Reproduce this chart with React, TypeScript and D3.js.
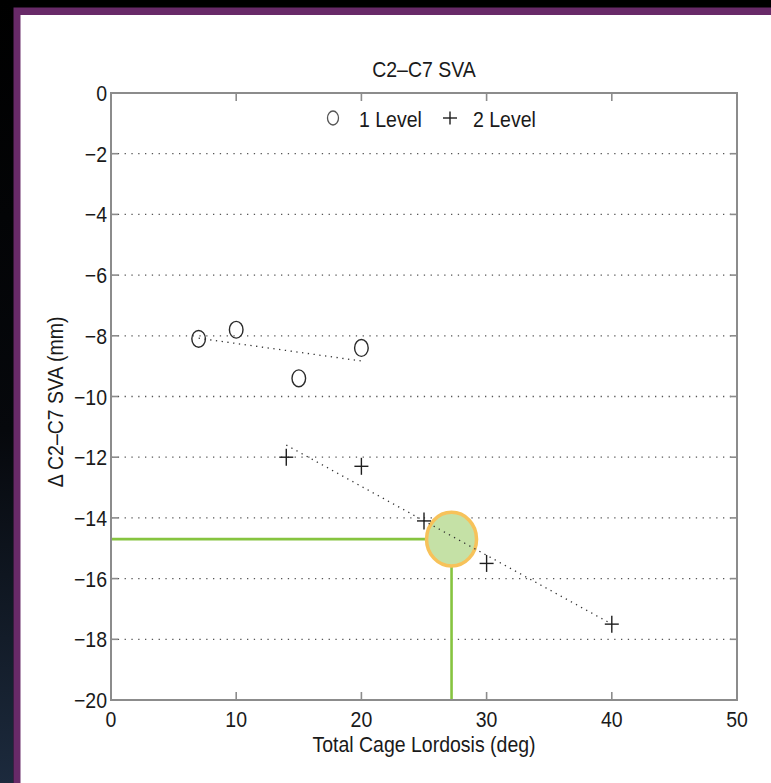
import * as d3 from "d3";

// 1 Level (circles)
const oneLevelX = [7, 10, 15, 20];
const oneLevelY = [-8.1, -7.8, -9.4, -8.4];
// 2 Level (plus)
const twoLevelX = [14, 20, 25, 30, 40];
const twoLevelY = [-12, -12.3, -14.1, -15.5, -17.5];
// dotted fit lines, end points
const oneFitX = [7, 20];
const oneFitY = [-8.08, -8.83];
const twoFitX = [14, 40];
const twoFitY = [-11.6, -17.5];
// green highlight
const markX = 27.2;
const markY = -14.7;

const xTicks = [0, 10, 20, 30, 40, 50];
const yTicks = [0, -2, -4, -6, -8, -10, -12, -14, -16, -18, -20];

const W = 771;
const H = 783;
const margin = { top: 93, right: 34, bottom: 83, left: 111 };
const FONT = "'Liberation Sans', Arial, Helvetica, sans-serif";
const fmt = d3.format("d");

function Txt(props: { x: number; y: number; anchor?: string; rotate?: number; size?: number; children: any }) {
  const { x, y, anchor = "middle", rotate = 0, size = 19.5, children } = props;
  return (
    <text
      transform={`translate(${x},${y}) rotate(${rotate}) scale(1,1.12)`}
      textAnchor={anchor}
      fontFamily={FONT}
      fontSize={size}
      fill="#1a1a1a"
    >
      {children}
    </text>
  );
}

function Plus({ cx, cy, rx = 7, ry = 8.5 }: { cx: number; cy: number; rx?: number; ry?: number }) {
  return (
    <g stroke="#1e1e1e" strokeWidth={1.4}>
      <line x1={cx - rx} x2={cx + rx} y1={cy} y2={cy} />
      <line x1={cx} x2={cx} y1={cy - ry} y2={cy + ry} />
    </g>
  );
}

export default function App() {
  const x = d3.scaleLinear().domain([0, 50]).range([margin.left, W - margin.right]);
  const y = d3.scaleLinear().domain([-20, 0]).range([H - margin.bottom, margin.top]);
  const [x0, x1] = x.range();
  const [y1, y0] = y.range();

  const line = d3
    .line<[number, number]>()
    .x((d) => x(d[0]))
    .y((d) => y(d[1]));

  const oneFit = oneFitX.map((v, i) => [v, oneFitY[i]] as [number, number]);
  const twoFit = twoFitX.map((v, i) => [v, twoFitY[i]] as [number, number]);

  return (
    <svg width={W} height={H} style={{ position: "absolute", left: 0, top: 0 }}>
      <defs>
        <linearGradient id="side" x1="0" y1="0" x2="0" y2="1">
          <stop offset="0%" stopColor="#000" />
          <stop offset="55%" stopColor="#06080c" />
          <stop offset="100%" stopColor="#1c2a3d" />
        </linearGradient>
      </defs>

      {/* slide frame */}
      <rect x={0} y={0} width={W} height={H} fill="#000" />
      <rect x={0} y={0} width={13.5} height={H} fill="url(#side)" />
      <rect x={13.5} y={7.5} width={W - 13.5} height={H - 7.5} fill="#682a68" />
      <rect x={20.5} y={15} width={W - 20.5} height={H - 15} fill="#fff" />

      {/* dotted grid */}
      {yTicks
        .filter((t) => t !== 0 && t !== -20)
        .map((t) => (
          <line
            key={`g${t}`}
            x1={x0}
            x2={x1}
            y1={y(t)}
            y2={y(t)}
            stroke="#555"
            strokeWidth={1.3}
            strokeDasharray="1.3,5.5"
          />
        ))}

      {/* green highlight */}
      <line x1={x0} x2={x(markX)} y1={y(markY)} y2={y(markY)} stroke="#86c440" strokeWidth={2.6} />
      <line x1={x(markX)} x2={x(markX)} y1={y(markY)} y2={y1} stroke="#86c440" strokeWidth={2.6} />
      <ellipse cx={x(markX)} cy={y(markY)} rx={25} ry={26.8} fill="#c5e1a6" stroke="#f7c25a" strokeWidth={3.5} />

      {/* fit lines */}
      <path d={line(oneFit) ?? ""} fill="none" stroke="#333" strokeWidth={1.3} strokeDasharray="1.3,4.5" />
      <path d={line(twoFit) ?? ""} fill="none" stroke="#333" strokeWidth={1.3} strokeDasharray="1.3,4.5" />

      {/* axes box */}
      <rect x={x0} y={y0} width={x1 - x0} height={y1 - y0} fill="none" stroke="#8c8c8c" strokeWidth={2} />
      {xTicks.map((t) => (
        <g key={`xt${t}`} stroke="#8c8c8c" strokeWidth={1.6}>
          <line x1={x(t)} x2={x(t)} y1={y1} y2={y1 - 8} />
          <line x1={x(t)} x2={x(t)} y1={y0} y2={y0 + 8} />
        </g>
      ))}
      {yTicks.map((t) => (
        <g key={`yt${t}`} stroke="#8c8c8c" strokeWidth={1.6}>
          <line x1={x0} x2={x0 + 7} y1={y(t)} y2={y(t)} />
          <line x1={x1} x2={x1 - 7} y1={y(t)} y2={y(t)} />
        </g>
      ))}

      {/* tick labels */}
      {xTicks.map((t) => (
        <Txt key={`xl${t}`} x={x(t)} y={y1 + 27}>
          {fmt(t)}
        </Txt>
      ))}
      {yTicks.map((t) => (
        <Txt key={`yl${t}`} x={x0 - 4} y={y(t) + 8} anchor="end">
          {fmt(t)}
        </Txt>
      ))}

      {/* titles */}
      <Txt x={(x0 + x1) / 2} y={77}>C2–C7 SVA</Txt>
      <Txt x={(x0 + x1) / 2} y={752}>Total Cage Lordosis (deg)</Txt>
      <Txt x={63} y={402} rotate={-90}>Δ C2–C7 SVA (mm)</Txt>

      {/* legend */}
      <ellipse cx={333} cy={118} rx={5.5} ry={7} fill="none" stroke="#555" strokeWidth={1.3} />
      <Txt x={359} y={127} anchor="start">1 Level</Txt>
      <Plus cx={450} cy={118} rx={7} ry={6.5} />
      <Txt x={473} y={127} anchor="start">2 Level</Txt>

      {/* markers */}
      {oneLevelX.map((v, i) => (
        <ellipse
          key={`c${i}`}
          cx={x(v)}
          cy={y(oneLevelY[i])}
          rx={6.8}
          ry={8.4}
          fill="none"
          stroke="#2a2a2a"
          strokeWidth={1.4}
        />
      ))}
      {twoLevelX.map((v, i) => (
        <Plus key={`p${i}`} cx={x(v)} cy={y(twoLevelY[i])} />
      ))}
    </svg>
  );
}
